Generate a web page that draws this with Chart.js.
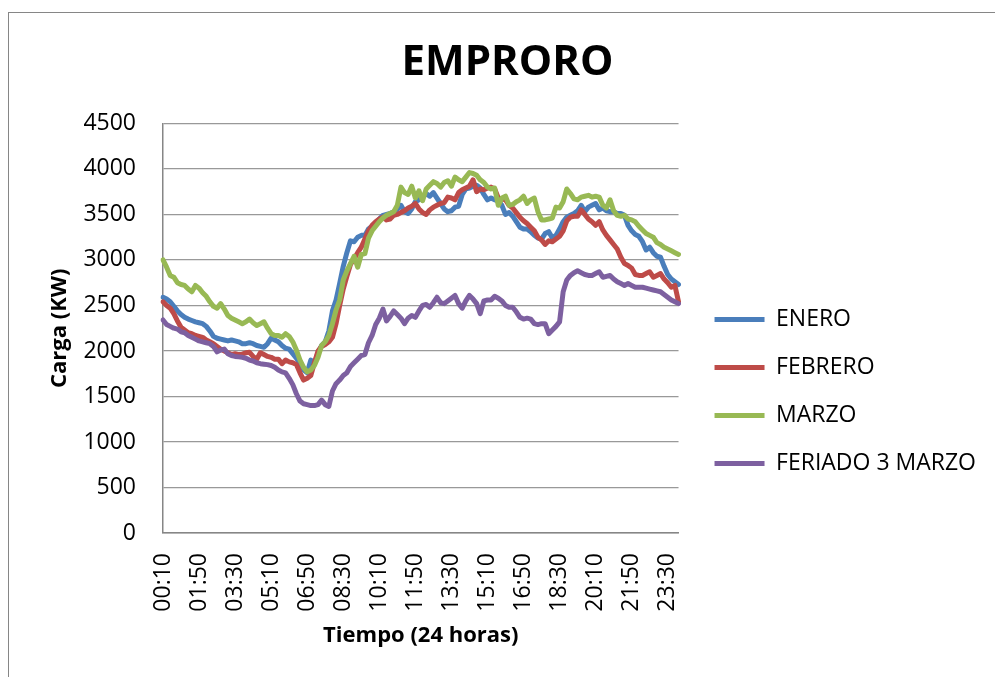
<!DOCTYPE html>
<html lang="es">
<head>
<meta charset="utf-8">
<title>EMPRORO</title>
<script src="https://cdn.jsdelivr.net/npm/chart.js@4.4.1/dist/chart.umd.min.js"></script>
<style>
  html, body { margin: 0; padding: 0; background: #fff; overflow: hidden; }
  #contenedor { position: relative; width: 995px; height: 677px; }
</style>
</head>
<body>
<div id="contenedor"><canvas id="cargaChart"></canvas></div>
<script>
// Horas del día cada 10 minutos (eje X)
const horas = [
  '00:10','00:20','00:30','00:40','00:50','01:00','01:10','01:20','01:30','01:40','01:50','02:00',
  '02:10','02:20','02:30','02:40','02:50','03:00','03:10','03:20','03:30','03:40','03:50','04:00',
  '04:10','04:20','04:30','04:40','04:50','05:00','05:10','05:20','05:30','05:40','05:50','06:00',
  '06:10','06:20','06:30','06:40','06:50','07:00','07:10','07:20','07:30','07:40','07:50','08:00',
  '08:10','08:20','08:30','08:40','08:50','09:00','09:10','09:20','09:30','09:40','09:50','10:00',
  '10:10','10:20','10:30','10:40','10:50','11:00','11:10','11:20','11:30','11:40','11:50','12:00',
  '12:10','12:20','12:30','12:40','12:50','13:00','13:10','13:20','13:30','13:40','13:50','14:00',
  '14:10','14:20','14:30','14:40','14:50','15:00','15:10','15:20','15:30','15:40','15:50','16:00',
  '16:10','16:20','16:30','16:40','16:50','17:00','17:10','17:20','17:30','17:40','17:50','18:00',
  '18:10','18:20','18:30','18:40','18:50','19:00','19:10','19:20','19:30','19:40','19:50','20:00',
  '20:10','20:20','20:30','20:40','20:50','21:00','21:10','21:20','21:30','21:40','21:50','22:00',
  '22:10','22:20','22:30','22:40','22:50','23:00','23:10','23:20','23:30','23:40','23:50','00:00'
];

// Etiquetas que se muestran en el eje X
const etiquetasEje = ['00:10','01:50','03:30','05:10','06:50','08:30','10:10','11:50',
  '13:30','15:10','16:50','18:30','20:10','21:50','23:30'];

// Marcas del eje Y
const ejeY = { min: 0, max: 4500, paso: 500 };

// Carga (KW) por serie
const enero = [
  2590,2570,2540,2490,2440,2400,2370,2350,2335,2320,2310,2300,
  2270,2220,2160,2140,2130,2120,2110,2120,2110,2100,2080,2080,
  2090,2080,2060,2050,2040,2080,2140,2120,2100,2060,2030,2020,
  1970,1920,1860,1790,1760,1900,1860,1980,2060,2100,2220,2440,
  2560,2740,2930,3080,3210,3200,3250,3270,3270,3340,3370,3400,
  3450,3490,3500,3510,3530,3560,3600,3530,3510,3560,3640,3660,
  3690,3730,3700,3740,3680,3620,3560,3530,3540,3580,3590,3720,
  3780,3790,3810,3820,3790,3720,3660,3680,3660,3650,3600,3500,
  3520,3480,3420,3360,3340,3340,3310,3270,3240,3230,3290,3310,
  3240,3270,3340,3420,3470,3490,3510,3540,3600,3530,3580,3600,
  3620,3550,3570,3540,3530,3530,3510,3510,3490,3380,3320,3280,
  3260,3200,3110,3140,3080,3040,3030,2930,2840,2790,2760,2730
];

const febrero = [
  2540,2500,2470,2410,2330,2260,2230,2200,2190,2170,2160,2150,
  2120,2100,2080,2050,2020,2000,1980,1960,1970,1960,1965,1980,
  1985,1940,1910,1980,1960,1940,1930,1910,1910,1860,1900,1880,
  1870,1850,1760,1680,1700,1730,1870,2000,2050,2070,2100,2150,
  2300,2500,2680,2820,2950,3010,3080,3140,3230,3320,3380,3420,
  3450,3470,3440,3450,3490,3500,3520,3540,3570,3590,3620,3560,
  3520,3500,3550,3580,3600,3620,3630,3690,3680,3660,3740,3770,
  3790,3810,3880,3750,3780,3770,3790,3800,3780,3680,3670,3660,
  3600,3570,3520,3470,3430,3400,3360,3320,3250,3220,3170,3210,
  3200,3230,3260,3320,3430,3470,3480,3480,3550,3500,3450,3420,
  3380,3420,3330,3270,3220,3170,3120,3030,2960,2940,2910,2840,
  2830,2830,2850,2870,2810,2830,2850,2790,2750,2700,2720,2540
];

const marzo = [
  3000,2920,2830,2810,2750,2730,2720,2680,2650,2720,2690,2640,
  2600,2540,2490,2470,2520,2460,2390,2360,2340,2320,2300,2320,
  2350,2310,2280,2300,2320,2250,2190,2170,2170,2150,2190,2160,
  2100,2010,1900,1820,1770,1790,1840,1930,2060,2100,2170,2300,
  2450,2560,2780,2880,2960,3040,2920,3060,3070,3240,3320,3370,
  3420,3460,3490,3510,3530,3600,3800,3740,3720,3810,3680,3760,
  3650,3780,3820,3860,3840,3800,3850,3870,3810,3910,3880,3860,
  3910,3960,3950,3930,3880,3850,3800,3780,3790,3600,3680,3700,
  3600,3610,3640,3660,3700,3620,3660,3680,3530,3440,3440,3450,
  3460,3580,3570,3640,3780,3730,3670,3660,3690,3700,3710,3690,
  3700,3690,3600,3570,3660,3540,3490,3480,3490,3450,3440,3420,
  3370,3330,3290,3270,3250,3190,3170,3140,3120,3100,3080,3060
];

const feriado3Marzo = [
  2340,2290,2270,2250,2240,2210,2200,2170,2150,2130,2110,2100,
  2090,2080,2050,1990,2010,2020,1970,1950,1940,1935,1930,1920,
  1900,1890,1870,1860,1855,1850,1840,1820,1790,1770,1760,1700,
  1630,1530,1450,1420,1410,1400,1400,1410,1460,1410,1390,1560,
  1640,1680,1730,1760,1830,1870,1910,1950,1960,2090,2170,2290,
  2360,2460,2330,2380,2440,2400,2360,2300,2360,2390,2370,2440,
  2500,2510,2480,2530,2590,2530,2520,2550,2580,2610,2520,2470,
  2550,2610,2570,2520,2410,2550,2560,2560,2600,2580,2550,2500,
  2480,2480,2430,2370,2350,2360,2350,2300,2290,2300,2300,2190,
  2230,2270,2320,2650,2780,2830,2860,2880,2860,2840,2830,2830,
  2850,2870,2810,2820,2830,2790,2760,2740,2720,2740,2720,2700,
  2700,2700,2690,2680,2670,2660,2650,2620,2590,2560,2540,2520
];

Chart.defaults.font.family = "'Open Sans', 'Noto Sans', sans-serif";
Chart.defaults.color = '#000';

// Fondo blanco y marco gris del gráfico
const marcoExterior = {
  id: 'marcoExterior',
  beforeDraw(chart) {
    const ctx = chart.ctx;
    ctx.save();
    ctx.fillStyle = '#fff';
    ctx.fillRect(0, 0, chart.width, chart.height);
    ctx.strokeStyle = '#868686';
    ctx.lineWidth = 1;
    ctx.strokeRect(8.5, 12.5, chart.width + 20, chart.height + 20);
    ctx.restore();
  }
};

// Ajuste de la posición de la leyenda
const moverLeyenda = {
  id: 'moverLeyenda',
  afterLayout(chart) {
    const l = chart.legend;
    if (!l) return;
    l.left += 11; l.right += 11;
    l.top += 53; l.bottom += 53;
  }
};

const serie = (label, data, color, order) => ({
  label,
  data,
  order,
  borderColor: color,
  backgroundColor: color,
  borderWidth: 5,
  borderCapStyle: 'round',
  borderJoinStyle: 'round',
  pointRadius: 0,
  tension: 0,
});

const ctx = document.getElementById('cargaChart').getContext('2d');
new Chart(ctx, {
  type: 'line',
  data: {
    labels: horas,
    datasets: [
      serie('ENERO', enero, '#4A7EBB', 3),
      serie('FEBRERO', febrero, '#BE4B48', 2),
      serie('MARZO', marzo, '#98B954', 1),
      serie('FERIADO 3 MARZO', feriado3Marzo, '#7D60A0', 0),
    ],
  },
  options: {
    responsive: true,
    maintainAspectRatio: false,
    animation: false,
    layout: { padding: { left: 40, right: 20, top: 0, bottom: 0 } },
    plugins: {
      title: {
        display: true,
        text: 'EMPRORO',
        font: { size: 42, weight: 'bold' },
        color: '#000',
        padding: { top: 38, bottom: 35 },
      },
      legend: {
        position: 'right',
        maxWidth: 400,
        labels: {
          usePointStyle: true,
          pointStyle: 'line',
          pointStyleWidth: 50,
          padding: 25,
          font: { size: 23 },
          color: '#000',
          sort: (a, b) => a.datasetIndex - b.datasetIndex,
        },
      },
      tooltip: { enabled: false },
    },
    scales: {
      x: {
        grid: { display: false },
        border: { display: true, color: '#868686', width: 1.5 },
        ticks: {
          autoSkip: false,
          minRotation: 90,
          maxRotation: 90,
          padding: 12,
          font: { size: 23 },
          color: '#000',
          callback: function (value, index) {
            const h = horas[index];
            return etiquetasEje.includes(h) && index < 141 ? h : null;
          },
        },
        title: {
          display: true,
          text: 'Tiempo (24 horas)',
          font: { size: 22, weight: 'bold' },
          color: '#000',
          padding: { top: 0, bottom: 28 },
        },
        afterFit: (scale) => { scale.height = 144; },
      },
      y: {
        min: ejeY.min,
        max: ejeY.max,
        grid: { color: '#999999', lineWidth: 1.3, drawTicks: false },
        border: { display: true, color: '#868686', width: 1.5 },
        ticks: {
          stepSize: ejeY.paso,
          padding: 27,
          font: { size: 23 },
          color: '#000',
          callback: (v) => String(v),
        },
        title: {
          display: true,
          text: 'Carga (KW)',
          font: { size: 22, weight: 'bold' },
          color: '#000',
          padding: { top: 7, bottom: 0 },
        },
        afterFit: (scale) => { scale.width = 123; },
      },
    },
  },
  plugins: [marcoExterior, moverLeyenda],
});
</script>
</body>
</html>
